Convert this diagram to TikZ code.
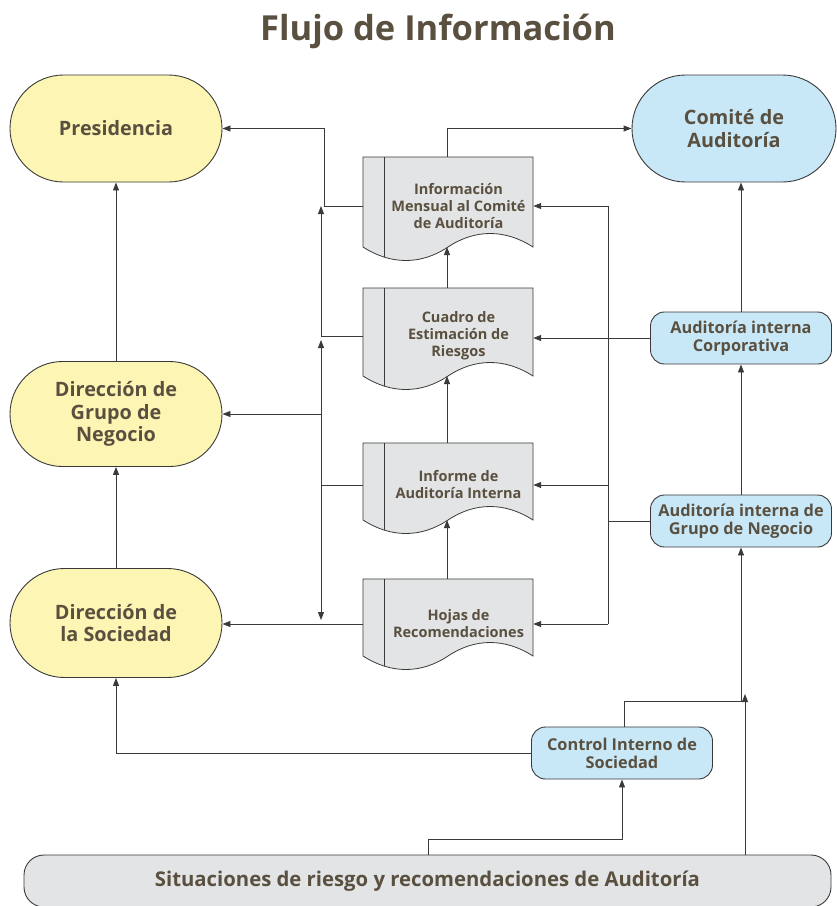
\documentclass[tikz,border=0pt]{standalone}
\usepackage{fontspec}
\setmainfont{Open Sans}
\usetikzlibrary{arrows.meta,shapes.misc}
\definecolor{txt}{HTML}{5A5040}
\definecolor{yel}{HTML}{FCF5B3}
\definecolor{blu}{HTML}{C8E8F8}
\definecolor{gry}{HTML}{E3E4E5}
\definecolor{ln}{HTML}{3A3A3A}
\tikzset{
  stad/.style={rounded rectangle, draw=ln, line width=0.9pt, text=txt, align=center, inner sep=0pt,
    font=\bfseries\fontsize{19.8}{22.5}\selectfont},
  bbox/.style={rectangle, rounded corners=14pt, draw=ln, line width=0.9pt, fill=blu, text=txt, align=center,
    minimum width=181pt, minimum height=52pt, inner sep=0pt, font=\bfseries\fontsize{16.3}{18}\selectfont},
  docline/.style={draw=ln, line width=0.8pt},
  docbody/.style={minimum width=170pt, minimum height=10pt, inner sep=0pt},
  doctext/.style={text=txt, align=center, inner sep=0pt, font=\bfseries\fontsize{14.5}{17}\selectfont},
  conn/.style={draw=ln, line width=0.9pt},
  arr/.style={-{Triangle[length=8pt,width=6pt]}},
}
\newcommand{\docnode}[5]{%
  \draw[docline, fill=gry] (363,#2) -- (533,#2) -- (533,#2+#3)
    .. controls (505,#2+#3-18) and (475,#2+#3-18) .. (448,#2+#3)
    .. controls (421,#2+#3+18) and (391,#2+#3+18) .. (363,#2+#3) -- cycle;
  \draw[docline] (384,#2) -- (384,#2+#3+10);
  \node[docbody] (#1) at (448,#4) {};
  \node[doctext] (#1T) at (458.5,#4) {#5};
  \coordinate (#1N) at (447,#2);
  \coordinate (#1S) at (447,#2+#3);
}
\begin{document}
\begin{tikzpicture}[x=1pt,y=-1pt]
\useasboundingbox (0,0) rectangle (837,906);
\node[text=txt, font=\bfseries\fontsize{34.5}{38}\selectfont] (title) at (438,31) {Flujo de Información};

\node[stad, fill=yel, minimum width=212pt, minimum height=107pt] (pres) at (116,128.5) {Presidencia};
\node[stad, fill=blu, minimum width=204pt, minimum height=107pt] (comite) at (734,128.5) {Comité de\\Auditoría};
\node[stad, fill=yel, minimum width=212pt, minimum height=105pt] (grupo) at (116,414) {Dirección de\\Grupo de\\Negocio};
\node[stad, fill=yel, minimum width=212pt, minimum height=109pt] (soc) at (116,623) {Dirección de\\la Sociedad};

\node[bbox] (audcorp) at (741,338) {Auditoría interna\\Corporativa};
\node[bbox] (audgrupo) at (741,521) {Auditoría interna de\\Grupo de Negocio};
\node[bbox] (control) at (622,753) {Control Interno de\\Sociedad};
\node[rectangle, rounded corners=20pt, draw=ln, line width=0.9pt, fill=gry, text=txt,
  minimum width=807pt, minimum height=52pt, inner sep=0pt, font=\bfseries\fontsize{20.3}{23}\selectfont]
  (sit) at (427.5,881) {\raisebox{-3pt}{Situaciones de riesgo y recomendaciones de Auditoría}};

\docnode{info}{157}{90}{206}{Información\\Mensual al Comité\\de Auditoría}
\docnode{cuadro}{288}{88}{336}{Cuadro de\\Estimación de\\Riesgos}
\docnode{informe}{443}{77}{485}{Informe de\\Auditoría Interna}
\docnode{hojas}{579}{77}{624}{Hojas de\\Recomendaciones}

% left column
\draw[conn,arr] (grupo.north) -- (pres.south);
\draw[conn,arr] (soc.north) -- (grupo.south);
\draw[conn,arr] (control.west) -| (soc.south);
% right column
\draw[conn,arr] (audcorp.north) -- (audcorp.north |- comite.south);
\draw[conn,arr] (audgrupo.north) -- (audcorp.south);
\coordinate (cUp) at (624,701);
\draw[conn,arr] (cUp |- control.north) -- (cUp) -| (audgrupo.south);
\coordinate (sArr) at (745,694);
\draw[conn,arr] (sArr |- sit.north) -- (sArr);
\coordinate (sJ) at (428,839);
\draw[conn,arr] (sJ |- sit.north) -- (sJ) -| (control.south);
% document chain
\draw[conn,arr] (hojasN) -- (informeS);
\draw[conn,arr] (informeN) -- (cuadroS);
\draw[conn,arr] (cuadroN) -- (infoS);
\draw[conn,arr] (infoN) |- (comite.west);
\coordinate (pJ) at (324,206);
\draw[conn,arr] (info.west) -- (pJ) |- (pres.east);
% left bus
\coordinate (bL) at (321,0);
\draw[conn] (cuadro.west) -- (cuadro.west -| bL);
\draw[conn,arr] (cuadro.west -| bL) -- (info.west -| bL);
\draw[conn] (informe.west) -- (informe.west -| bL);
\draw[conn,arr,shorten >=4pt] (informe.west -| bL) -- (cuadro.west -| bL);
\draw[conn,arr,shorten >=4pt] (informe.west -| bL) -- (hojas.west -| bL);
\draw[conn,arr] (grupo.east -| bL) -- (grupo.east);
\draw[conn,arr] (hojas.west) -- (hojas.west -| soc.east);
% right bus
\coordinate (bR) at (608,0);
\draw[conn] (audgrupo.west) -- (audgrupo.west -| bR);
\draw[conn] (info.east -| bR) -- (hojas.east -| bR);
\draw[conn,arr] (info.east -| bR) -- (info.east);
\draw[conn,arr] (informe.east -| bR) -- (informe.east);
\draw[conn,arr] (hojas.east -| bR) -- (hojas.east);
\draw[conn,arr] (audcorp.west) -- (audcorp.west -| cuadro.east);
\end{tikzpicture}
\end{document}
